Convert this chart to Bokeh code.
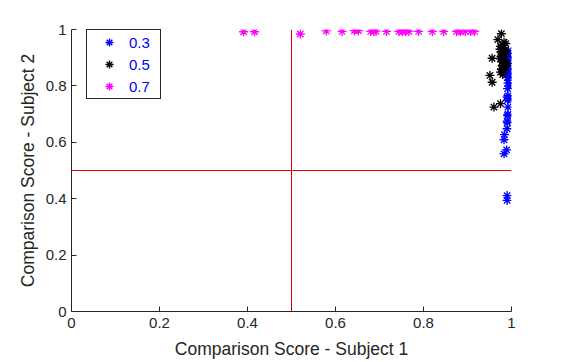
from bokeh.plotting import figure
from bokeh.models import Legend, LegendItem, Span, FixedTicker
from bokeh.embed import file_html
from bokeh.resources import INLINE

# Series "0.3" (blue)
x03 = [0.993, 0.992, 0.994, 0.991, 0.993, 0.992, 0.994, 0.991, 0.993, 0.992,
       0.994, 0.991, 0.993, 0.992, 0.994, 0.991, 0.992, 0.990, 0.993, 0.991,
       0.992, 0.992, 0.991, 0.990, 0.991, 0.990, 0.984, 0.983, 0.989, 0.983,
       0.990, 0.990]
y03 = [0.925, 0.915, 0.905, 0.900, 0.890, 0.880, 0.870, 0.860, 0.850, 0.845,
       0.835, 0.830, 0.820, 0.810, 0.800, 0.790, 0.765, 0.760, 0.755, 0.750,
       0.725, 0.700, 0.695, 0.675, 0.670, 0.648, 0.627, 0.609, 0.573, 0.559,
       0.411, 0.394]

# Series "0.5" (black)
x05 = [0.977, 0.969, 0.983, 0.979, 0.975, 0.982, 0.979, 0.985, 0.976, 0.980,
       0.984, 0.956, 0.975, 0.981, 0.978, 0.983, 0.979, 0.985, 0.977, 0.982,
       0.975, 0.951, 0.980, 0.956, 0.975, 0.960, 0.987, 0.988, 0.974, 0.990,
       0.978, 0.984, 0.981, 0.976]
y05 = [0.985, 0.964, 0.955, 0.945, 0.940, 0.935, 0.932, 0.925, 0.920, 0.910,
       0.905, 0.898, 0.896, 0.890, 0.885, 0.880, 0.872, 0.865, 0.860, 0.855,
       0.849, 0.837, 0.840, 0.813, 0.737, 0.725, 0.950, 0.920, 0.930, 0.880,
       0.900, 0.870, 0.915, 0.905]

# Series "0.7" (magenta)
x07 = [0.391, 0.416, 0.520, 0.579, 0.615, 0.643, 0.652, 0.680, 0.687, 0.692,
       0.716, 0.744, 0.752, 0.759, 0.767, 0.789, 0.820, 0.846, 0.875, 0.884,
       0.895, 0.907, 0.916]
y07 = [0.992, 0.992, 0.984, 0.995, 0.993, 0.996, 0.996, 0.993, 0.993, 0.994,
       0.993, 0.993, 0.992, 0.993, 0.993, 0.993, 0.993, 0.993, 0.993, 0.992,
       0.993, 0.993, 0.993]

labels = ["0.3", "0.5", "0.7"]
ticks = [0, 0.2, 0.4, 0.6, 0.8, 1]

FONT = "Liberation Sans"
AX = "#262626"

p = figure(width=564, height=362, output_backend="svg", toolbar_location=None,
           x_range=(0, 1), y_range=(0, 1),
           min_border_left=71, min_border_right=53, min_border_top=29, min_border_bottom=51)
p.outline_line_color = None
p.grid.visible = False
p.background_fill_color = "white"

for ax in (p.xaxis[0], p.yaxis[0]):
    ax.ticker = FixedTicker(ticks=ticks)
    ax.major_label_overrides = {t: ("0" if t == 0 else ("1" if t == 1 else str(t))) for t in ticks}
    ax.major_tick_in = 5
    ax.major_tick_out = 0
    ax.minor_tick_line_color = None
    ax.axis_line_color = AX
    ax.major_tick_line_color = AX
    ax.major_label_text_color = AX
    ax.major_label_text_font = FONT
    ax.major_label_text_font_size = "15px"
    ax.axis_label_text_font = FONT
    ax.axis_label_text_font_size = "17.5px"
    ax.axis_label_text_font_style = "normal"
    ax.axis_label_text_color = AX

p.xaxis.axis_label = "Comparison Score - Subject 1"
p.yaxis.axis_label = "Comparison Score - Subject 2"
p.xaxis.major_label_standoff = 6
p.yaxis.major_label_standoff = 5
p.xaxis.axis_label_standoff = 8
p.yaxis.axis_label_standoff = 5

p.add_layout(Span(location=0.5, dimension="width", line_color="#dd0000", line_width=1))
p.add_layout(Span(location=0.5, dimension="height", line_color="#dd0000", line_width=1))

r1 = p.scatter(x03, y03, marker="asterisk", size=9, line_color="#0000ff", line_width=1.3)
r2 = p.scatter(x05, y05, marker="asterisk", size=9, line_color="#000000", line_width=1.3)
r3 = p.scatter(x07, y07, marker="asterisk", size=9, line_color="#ff00ff", line_width=1.3)

legend = Legend(items=[LegendItem(label=labels[0], renderers=[r1]),
                       LegendItem(label=labels[1], renderers=[r2]),
                       LegendItem(label=labels[2], renderers=[r3])],
                location=(15, 212), padding=2, spacing=2, margin=0,
                glyph_width=40, glyph_height=20, label_standoff=0, label_width=29,
                label_text_font=FONT, label_text_font_size="15px",
                label_text_color="#0000ff", border_line_color=AX, border_line_width=1,
                border_line_alpha=1,
                background_fill_color="white", background_fill_alpha=1)
p.add_layout(legend)

open("out.html", "w").write(file_html(p, INLINE))
